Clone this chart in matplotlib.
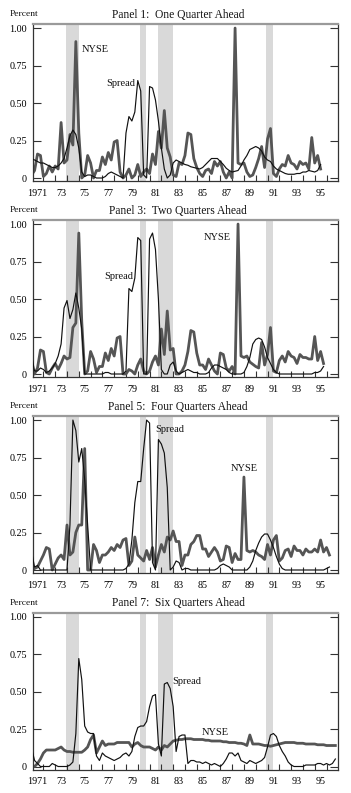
import numpy as np
import matplotlib
matplotlib.use("Agg")
import matplotlib.pyplot as plt
from matplotlib.ticker import FixedLocator, FixedFormatter, NullFormatter

plt.rcParams['font.family'] = ['Liberation Serif', 'DejaVu Serif']

# ---------------- data (quarterly, starting 1971Q1) ----------------
start_year = 1971

p1_nyse = [0.02, 0.05, 0.16, 0.15, 0.01, 0.03, 0.08, 0.04, 0.08, 0.06,
           0.37, 0.10, 0.12, 0.29, 0.22, 0.91, 0.30, 0.00, 0.02, 0.15,
           0.10, 0.00, 0.05, 0.05, 0.14, 0.09, 0.17, 0.12, 0.24, 0.25,
           0.04, 0.00, 0.02, 0.06, 0.00, 0.02, 0.09, 0.01, 0.04, 0.06,
           0.03, 0.16, 0.09, 0.31, 0.20, 0.45, 0.20, 0.14, 0.02, 0.01,
           0.10, 0.09, 0.15, 0.30, 0.29, 0.13, 0.07, 0.03, 0.01, 0.05,
           0.06, 0.03, 0.11, 0.08, 0.11, 0.04, 0.00, 0.04, 0.00, 1.00,
           0.10, 0.09, 0.10, 0.04, 0.01, 0.02, 0.07, 0.13, 0.21, 0.07,
           0.26, 0.33, 0.03, 0.01, 0.06, 0.09, 0.08, 0.15, 0.10, 0.09,
           0.06, 0.11, 0.09, 0.10, 0.06, 0.27, 0.10, 0.15, 0.06]
p1_spread = [0.13, 0.12, 0.11, 0.10, 0.10, 0.09, 0.08, 0.07, 0.07, 0.08,
             0.10, 0.13, 0.20, 0.28, 0.32, 0.29, 0.20, 0.04, 0.01, 0.02,
             0.02, 0.01, 0.00, 0.00, 0.00, 0.01, 0.03, 0.04, 0.03, 0.02,
             0.01, 0.00, 0.30, 0.41, 0.38, 0.44, 0.65, 0.58, 0.02, 0.00,
             0.61, 0.60, 0.52, 0.38, 0.20, 0.06, 0.00, 0.02, 0.10, 0.12,
             0.11, 0.10, 0.09, 0.085, 0.075, 0.07, 0.065, 0.06, 0.07, 0.09,
             0.11, 0.13, 0.13, 0.13, 0.11, 0.09, 0.065, 0.05, 0.04, 0.045,
             0.05, 0.08, 0.12, 0.15, 0.19, 0.20, 0.21, 0.20, 0.18, 0.14,
             0.12, 0.11, 0.08, 0.06, 0.05, 0.04, 0.03, 0.025, 0.025, 0.025,
             0.03, 0.03, 0.04, 0.04, 0.05, 0.045, 0.04, 0.05, 0.09]

p2_nyse = [0.00, 0.00, 0.04, 0.16, 0.15, 0.01, 0.00, 0.04, 0.07, 0.03,
           0.07, 0.12, 0.10, 0.11, 0.31, 0.34, 0.94, 0.35, 0.00, 0.02,
           0.15, 0.10, 0.01, 0.05, 0.05, 0.14, 0.09, 0.17, 0.12, 0.24,
           0.25, 0.00, 0.00, 0.03, 0.02, 0.00, 0.06, 0.10, 0.02, 0.00,
           0.02, 0.08, 0.12, 0.06, 0.30, 0.13, 0.42, 0.16, 0.17, 0.00,
           0.00, 0.02, 0.06, 0.15, 0.29, 0.28, 0.14, 0.06, 0.06, 0.03,
           0.10, 0.06, 0.02, 0.00, 0.14, 0.13, 0.04, 0.02, 0.05, 0.00,
           1.00, 0.12, 0.11, 0.12, 0.08, 0.065, 0.05, 0.04, 0.21, 0.06,
           0.13, 0.31, 0.02, 0.01, 0.09, 0.12, 0.08, 0.15, 0.12, 0.11,
           0.07, 0.13, 0.11, 0.11, 0.10, 0.10, 0.25, 0.09, 0.15, 0.07]
p2_spread = [0.12, 0.02, 0.02, 0.04, 0.03, 0.01, 0.02, 0.04, 0.07, 0.12,
             0.20, 0.44, 0.49, 0.37, 0.43, 0.54, 0.44, 0.30, 0.00, 0.00,
             0.00, 0.00, 0.00, 0.00, 0.00, 0.01, 0.01, 0.00, 0.00, 0.00,
             0.00, 0.00, 0.02, 0.57, 0.55, 0.64, 0.91, 0.89, 0.00, 0.00,
             0.90, 0.94, 0.83, 0.50, 0.03, 0.00, 0.00, 0.06, 0.08, 0.02,
             0.00, 0.01, 0.02, 0.03, 0.02, 0.01, 0.01, 0.00, 0.00, 0.00,
             0.01, 0.04, 0.06, 0.06, 0.05, 0.04, 0.03, 0.01, 0.00, 0.00,
             0.00, 0.00, 0.01, 0.05, 0.11, 0.20, 0.23, 0.24, 0.23, 0.18,
             0.11, 0.07, 0.03, 0.01, 0.00, 0.00, 0.00, 0.00, 0.00, 0.00,
             0.00, 0.00, 0.00, 0.00, 0.00, 0.00, 0.01, 0.01, 0.02, 0.05]

p3_nyse = [0.00, 0.01, 0.02, 0.06, 0.10, 0.15, 0.14, 0.00, 0.04, 0.08,
           0.10, 0.07, 0.30, 0.10, 0.12, 0.25, 0.30, 0.30, 0.81, 0.00,
           0.00, 0.17, 0.13, 0.05, 0.10, 0.10, 0.12, 0.15, 0.13, 0.17,
           0.15, 0.20, 0.21, 0.03, 0.06, 0.22, 0.10, 0.08, 0.06, 0.13,
           0.07, 0.15, 0.02, 0.10, 0.17, 0.12, 0.22, 0.20, 0.26, 0.19,
           0.19, 0.03, 0.10, 0.10, 0.17, 0.19, 0.23, 0.23, 0.14, 0.14,
           0.09, 0.12, 0.15, 0.12, 0.06, 0.07, 0.16, 0.15, 0.05, 0.11,
           0.07, 0.07, 0.62, 0.13, 0.12, 0.13, 0.12, 0.10, 0.09, 0.07,
           0.17, 0.10, 0.20, 0.23, 0.06, 0.08, 0.13, 0.14, 0.09, 0.16,
           0.13, 0.13, 0.10, 0.14, 0.12, 0.12, 0.14, 0.12, 0.20, 0.12,
           0.15, 0.10]
p3_spread = [0.12, 0.02, 0.03, 0.00, 0.00, 0.00, 0.00, 0.00, 0.00, 0.00,
             0.00, 0.00, 0.00, 0.30, 1.00, 0.93, 0.72, 0.81, 0.60, 0.30,
             0.00, 0.00, 0.00, 0.00, 0.00, 0.00, 0.00, 0.00, 0.00, 0.00,
             0.00, 0.00, 0.01, 0.04, 0.20, 0.45, 0.59, 0.59, 0.81, 1.00,
             0.98, 0.05, 0.00, 0.87, 0.84, 0.78, 0.55, 0.00, 0.02, 0.06,
             0.05, 0.00, 0.01, 0.01, 0.00, 0.00, 0.00, 0.00, 0.00, 0.00,
             0.00, 0.00, 0.00, 0.01, 0.03, 0.04, 0.03, 0.02, 0.00, 0.00,
             0.00, 0.00, 0.00, 0.00, 0.02, 0.06, 0.13, 0.18, 0.22, 0.24,
             0.24, 0.20, 0.15, 0.09, 0.04, 0.01, 0.00, 0.00, 0.00, 0.00,
             0.00, 0.00, 0.00, 0.00, 0.00, 0.00, 0.00, 0.00, 0.00, 0.00,
             0.01, 0.02]

p4_nyse = [0.00, 0.00, 0.02, 0.05, 0.09, 0.11, 0.11, 0.11, 0.11, 0.12,
           0.13, 0.11, 0.10, 0.10, 0.095, 0.095, 0.095, 0.095, 0.11, 0.13,
           0.18, 0.21, 0.09, 0.13, 0.17, 0.14, 0.15, 0.15, 0.15, 0.16,
           0.16, 0.16, 0.16, 0.16, 0.13, 0.15, 0.16, 0.14, 0.13, 0.13,
           0.13, 0.12, 0.11, 0.13, 0.11, 0.14, 0.13, 0.15, 0.17, 0.175,
           0.18, 0.18, 0.185, 0.185, 0.185, 0.18, 0.18, 0.18, 0.18, 0.175,
           0.175, 0.17, 0.17, 0.17, 0.17, 0.165, 0.165, 0.16, 0.16, 0.16,
           0.155, 0.155, 0.15, 0.14, 0.21, 0.15, 0.15, 0.15, 0.145, 0.14,
           0.14, 0.135, 0.14, 0.145, 0.15, 0.155, 0.16, 0.16, 0.16, 0.16,
           0.155, 0.155, 0.155, 0.15, 0.15, 0.15, 0.15, 0.145, 0.145, 0.145,
           0.14, 0.14, 0.14, 0.14]
p4_spread = [0.12, 0.04, 0.02, 0.00, 0.00, 0.00, 0.00, 0.02, 0.01, 0.00,
             0.00, 0.00, 0.00, 0.01, 0.03, 0.22, 0.72, 0.58, 0.27, 0.23,
             0.22, 0.22, 0.07, 0.04, 0.09, 0.07, 0.06, 0.05, 0.04, 0.05,
             0.06, 0.08, 0.09, 0.07, 0.10, 0.20, 0.26, 0.27, 0.27, 0.30,
             0.40, 0.47, 0.48, 0.15, 0.07, 0.55, 0.56, 0.52, 0.40, 0.10,
             0.20, 0.21, 0.21, 0.02, 0.04, 0.04, 0.03, 0.03, 0.02, 0.03,
             0.02, 0.01, 0.02, 0.01, 0.00, 0.02, 0.05, 0.09, 0.09, 0.07,
             0.09, 0.04, 0.03, 0.02, 0.04, 0.03, 0.02, 0.03, 0.04, 0.06,
             0.13, 0.21, 0.22, 0.20, 0.14, 0.10, 0.07, 0.03, 0.01, 0.00,
             0.00, 0.00, 0.00, 0.01, 0.01, 0.01, 0.01, 0.02, 0.02, 0.01,
             0.02, 0.01, 0.02, 0.05]

panel_titles = ["Panel 1:  One Quarter Ahead", "Panel 3:  Two Quarters Ahead",
                "Panel 5:  Four Quarters Ahead", "Panel 7:  Six Quarters Ahead"]
nyse_series = [p1_nyse, p2_nyse, p3_nyse, p4_nyse]
spread_series = [p1_spread, p2_spread, p3_spread, p4_spread]

# recession shading (decimal years)
recessions = [(1973.88, 1975.05), (1980.22, 1980.70), (1981.72, 1983.00), (1990.87, 1991.44)]

label_years = [1971, 1973, 1975, 1977, 1979, 1981, 1983, 1985, 1987, 1989, 1991, 1993, 1995]
year_labels = ["1971", "73", "75", "77", "79", "81", "83", "85", "87", "89", "91", "93", "95"]
y_ticks = [0, 0.25, 0.5, 0.75, 1.0]
y_tick_labels = ["0", "0.25", "0.50", "0.75", "1.00"]

# label annotations: (text, year, value)
annotations = [
    [("NYSE", 1975.27, 0.855), ("Spread", 1977.3, 0.63)],
    [("NYSE", 1985.61, 0.91), ("Spread", 1977.2, 0.65)],
    [("Spread", 1981.45, 0.94), ("NYSE", 1987.9, 0.68)],
    [("Spread", 1982.9, 0.57), ("NYSE", 1985.44, 0.23)],
]

# ---------------- layout ----------------
W, H = 351, 793
fig = plt.figure(figsize=(W / 100, H / 100), dpi=100)
left_px, right_px = 32.5, 338.3
tops_px = [24, 220, 416, 612.5]
height_px = 157
xlim = (1971.075, 1997.0)

nyse_color = "#555555"
spread_color = "#111111"
shade_color = "#d9d9d9"

for k in range(4):
    top = tops_px[k]
    ax = fig.add_axes([left_px / W, 1 - (top + height_px) / H,
                       (right_px - left_px) / W, height_px / H])
    for (a, b) in recessions:
        ax.axvspan(a, b, color=shade_color, lw=0, zorder=0)
    n1 = len(nyse_series[k])
    t1 = start_year + np.arange(n1) / 4.0
    ax.plot(t1, nyse_series[k], color=nyse_color, lw=2.0, zorder=2)
    n2 = len(spread_series[k])
    t2 = start_year + np.arange(n2) / 4.0
    ax.plot(t2, spread_series[k], color=spread_color, lw=0.85, zorder=3)

    ax.set_xlim(*xlim)
    ax.set_ylim(-0.02, 1.027)

    # x: labels at mid-year, tick marks at year boundaries
    ax.xaxis.set_major_locator(FixedLocator([y + 0.5 for y in label_years]))
    ax.xaxis.set_major_formatter(FixedFormatter(year_labels))
    ax.xaxis.set_minor_locator(FixedLocator(list(range(1972, 1997))))
    ax.xaxis.set_minor_formatter(NullFormatter())
    ax.tick_params(axis='x', which='major', length=0, pad=5.5, labelsize=7.3)
    ax.tick_params(axis='x', which='minor', direction='in', length=4, width=0.8,
                   color='#333333', top=False)

    ax.set_yticks(y_ticks)
    ax.set_yticklabels(y_tick_labels)
    ax.tick_params(axis='y', which='major', direction='in', length=6, width=0.8,
                   left=True, right=True, pad=4, labelsize=7.3, color='#333333')

    for side in ['left', 'bottom', 'right']:
        ax.spines[side].set_color('#333333')
        ax.spines[side].set_linewidth(0.9)
    ax.spines['top'].set_color('#9a9a9a')
    ax.spines['top'].set_linewidth(1.6)

    for (txt, xx, yy) in annotations[k]:
        ax.text(xx, yy, txt, fontsize=7.5, ha='left', va='center', color='#111111', zorder=4)

    ty = 1 - (top - 9.5) / H
    fig.text(178 / W, ty, panel_titles[k], fontsize=8.3, ha='center', va='center', color='#111111')
    fig.text(10 / W, ty, "Percent", fontsize=6.8, ha='left', va='center', color='#111111')

fig.savefig("out.png", dpi=100)
